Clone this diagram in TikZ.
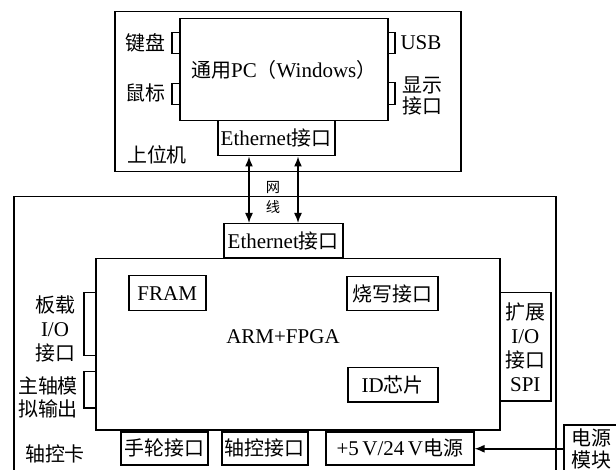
\documentclass[tikz,border=0pt]{standalone}
\usepackage{fontspec}
\setmainfont{Liberation Serif}
\newfontfamily\cjk{Noto Sans CJK SC}[Scale=0.95]
\usetikzlibrary{arrows.meta,calc}
\newcommand{\zh}[1]{{\cjk #1}}
\begin{document}
\begin{tikzpicture}[x=1pt,y=-1pt,
  every node/.style={font=\fontsize{21}{24}\selectfont},
  box/.style={draw, line width=1.5pt, inner sep=0pt, anchor=north west, align=center},
  lbl/.style={inner sep=0pt, align=center},
  dbl/.style={line width=1.5pt, {Latex[length=10pt,width=8pt]}-{Latex[length=10pt,width=8pt]}},
  arr/.style={line width=1.5pt, -{Latex[length=10pt,width=8pt]}}]
\useasboundingbox (0,0) rectangle (616,470);
\clip (0,0) rectangle (616,470);
% upper computer
\node[box, minimum width=346pt, minimum height=160pt] (host) at (114,11) {};
\node[box, minimum width=208pt, minimum height=102pt] (pc) at (179,18) {\zh{通用}PC\zh{（}Windows\zh{）}};
\node[box, minimum width=117pt, minimum height=35pt] (eth1) at (217,120) {Ethernet\zh{接口}};
\node[box, minimum width=8pt, minimum height=21pt] (kbt) at (171,32) {};
\node[box, minimum width=8pt, minimum height=21pt] (mst) at (171,83) {};
\node[box, minimum width=7pt, minimum height=21pt] (usbt) at (387,32) {};
\node[box, minimum width=7pt, minimum height=22pt] (dspt) at (387,82) {};
\node[lbl] (kb) at (145,43) {\zh{键盘}};
\node[lbl] (ms) at (145,93) {\zh{鼠标}};
\node[lbl] (usb) at (421,43) {USB};
\node[lbl, font=\fontsize{21}{21}\selectfont] (dsp) at (422,96) {\zh{显示}\\\zh{接口}};
\node[lbl] (hostl) at (157,155) {\zh{上位机}};
% axis control card
\node[box, minimum width=542pt, minimum height=285pt] (card) at (13,196) {};
\node[box, minimum width=119pt, minimum height=34pt] (eth2) at (223,223) {Ethernet\zh{接口}};
\node[box, minimum width=404pt, minimum height=171pt] (arm) at (95,258) {};
\node[lbl] (arml) at (283,337) {ARM+FPGA};
\node[box, minimum width=77pt, minimum height=35pt] (fram) at (128,275) {FRAM};
\node[box, minimum width=91pt, minimum height=34pt] (burn) at (346,276) {\zh{烧写接口}};
\node[box, minimum width=90pt, minimum height=34pt] (idc) at (347,367) {ID\zh{芯片}};
\node[box, minimum width=12pt, minimum height=63pt] (iot) at (83,292) {};
\node[box, minimum width=12pt, minimum height=36pt] (spt) at (83,371) {};
\node[lbl] (iol) at (55,329) {\zh{板载}\\I/O\\\zh{接口}};
\node[lbl, font=\fontsize{21}{23}\selectfont] (spl) at (48,397) {\zh{主轴模}\\\zh{拟输出}};
\node[box, minimum width=51pt, minimum height=108pt] (ext) at (499,292) {\zh{扩展}\\I/O\\\zh{接口}\\SPI};
\node[box, minimum width=87pt, minimum height=33pt] (hw) at (120,431) {\zh{手轮接口}};
\node[box, minimum width=86pt, minimum height=33pt] (ax) at (221,431) {\zh{轴控接口}};
\node[box, minimum width=148pt, minimum height=33pt] (pwr) at (325,431) {+5\,V/24\,V\zh{电源}};
\node[lbl] (cardl) at (55,454) {\zh{轴控卡}};
% power module
\node[box, minimum width=56pt, minimum height=48pt, font=\fontsize{21}{22}\selectfont] (pm) at (563,424) {\zh{电源}\\\zh{模块}};
% connectors
\coordinate (c1) at (249,0);
\coordinate (c2) at (298,0);
\draw[dbl] (c1 |- eth1.south) -- (c1 |- eth2.north);
\draw[dbl] (c2 |- eth1.south) -- (c2 |- eth2.north);
\node[lbl, font=\fontsize{15}{20}\selectfont] (net) at (273,197) {\zh{网}\\\zh{线}};
\draw[arr] (pm.west) -- (pm.west -| pwr.east);
\end{tikzpicture}
\end{document}
